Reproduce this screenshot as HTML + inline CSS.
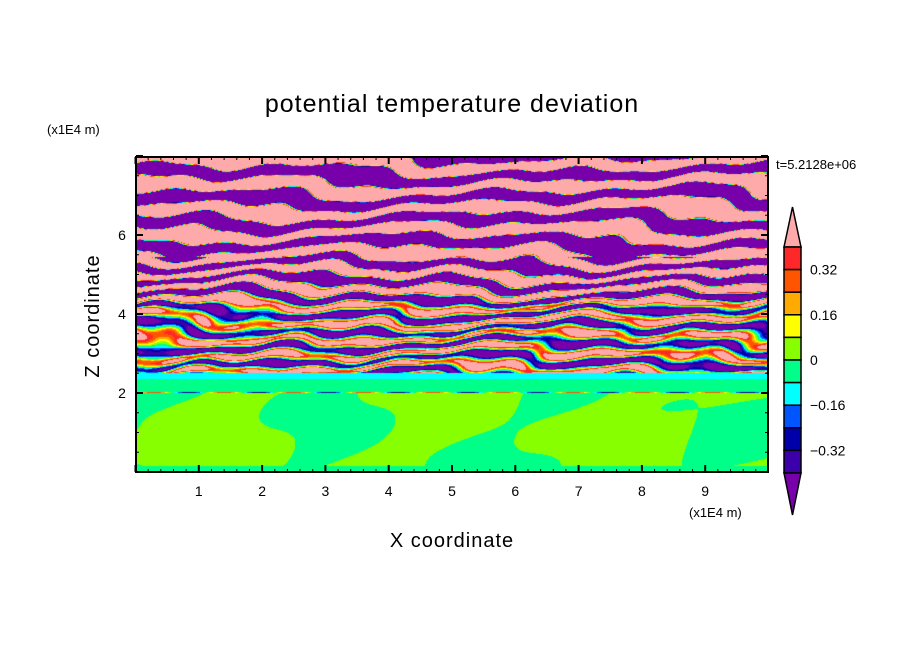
<!DOCTYPE html>
<html><head><meta charset="utf-8"><style>
body{margin:0;background:#fff;width:904px;height:654px;overflow:hidden;position:relative;font-family:"Liberation Sans",sans-serif}
canvas{position:absolute;left:136px;top:157px}
svg{position:absolute;left:0;top:0}
</style></head><body>
<canvas id="c" width="632" height="315"></canvas>
<svg width="904" height="654" id="s" font-family="Liberation Sans, sans-serif">
<text x="452" y="112" font-size="25" text-anchor="middle" letter-spacing="1">potential temperature deviation</text>
<text x="47" y="134" font-size="13">(x1E4 m)</text>
<text x="689" y="517" font-size="13">(x1E4 m)</text>
<text x="776" y="169" font-size="13">t=5.2128e+06</text>
<text x="452" y="547" font-size="20" text-anchor="middle" letter-spacing="1">X coordinate</text>
<text transform="translate(99,316) rotate(-90)" font-size="20" text-anchor="middle" letter-spacing="1">Z coordinate</text>
<g id="ax"></g>
</svg>
<script>
(function(){
const cols=["#7800aa","#3c00aa","#0000aa","#0055ff","#00ffff","#00ff88","#88ff00","#ffff00","#ffaa00","#ff5500","#ff2828","#ffaaaa"];
function idx(v){let k=Math.floor(v/0.08)+6;return Math.max(0,Math.min(11,k));}
const rgb=cols.map(c=>[parseInt(c.substr(1,2),16),parseInt(c.substr(3,2),16),parseInt(c.substr(5,2),16)]);
const cv=document.getElementById('c'),ctx=cv.getContext('2d'),im=ctx.createImageData(632,315),d=im.data;
for(let j=0;j<315;j++)for(let i=0;i<632;i++){
 let v;
 if(j<216){
  let w=5*Math.sin(i*0.012+j*0.05)+4*Math.sin(i*0.03+j*0.08+1)+2*Math.sin(i*0.06-j*0.04)+1.5*Math.sin(i*0.1+j*0.13);
  let amp=j<80?3:Math.max(0.5,3-2.5*(j-80)/70);
  v=amp*Math.sin(2*Math.PI*(j+w)/(j<100?23:16))+(j>90?0.15*Math.sin(i*0.04+j*0.3)+0.1*Math.sin(i*0.11-j*0.2):0);
 } else if(j<236){
  v=j<222?-0.11:-0.04;
  if(j==235)v=0.3*Math.sin(i*0.09);
 } else {
  v=0.01+0.065*(Math.sin(i*0.03+j*0.02)+0.8*Math.sin(i*0.017-j*0.05+2)+0.5*Math.sin(i*0.05+j*0.09))/2.3;
  v=Math.min(v,0.07);
  if(j>308)v=-0.03;
 }
 const c=rgb[idx(v)],p=(j*632+i)*4;d[p]=c[0];d[p+1]=c[1];d[p+2]=c[2];d[p+3]=255;
}
ctx.putImageData(im,0,0);
let g='';
g+='<rect x="136" y="157" width="632" height="315" fill="none" stroke="#000" stroke-width="2"/>';
for(let k=0;k<=50;k++){let x=135.5+k*12.66;if(x>768)break;let L=k%5==0?7:3;
 g+=`<line x1="${x}" y1="472" x2="${x}" y2="${472-L}" stroke="#000" stroke-width="${L>3?2:1}"/><line x1="${x}" y1="157" x2="${x}" y2="${157+L}" stroke="#000" stroke-width="${L>3?2:1}"/>`;
 if(k%5==0&&k>0&&k<50)g+=`<text x="${x}" y="496" font-size="14" text-anchor="middle">${k/5}</text>`;}
for(let k=0;k<=16;k++){let y=472-k*19.75;let L=k%4==0?7:3;
 g+=`<line x1="136" y1="${y}" x2="${136+L}" y2="${y}" stroke="#000" stroke-width="${L>3?2:1}"/><line x1="768" y1="${y}" x2="${768-L}" y2="${y}" stroke="#000" stroke-width="${L>3?2:1}"/>`;
 if(k%4==0&&k>0&&k<16)g+=`<text x="122" y="${y+5}" font-size="14" text-anchor="middle">${k/2}</text>`;}
const bx=784,bw=17,ty=247,bh=22.6;
g+=`<polygon points="${bx},${ty} ${bx+bw/2},207 ${bx+bw},${ty}" fill="${cols[11]}" stroke="#000" stroke-width="1.5"/>`;
for(let k=0;k<10;k++){g+=`<rect x="${bx}" y="${ty+k*bh}" width="${bw}" height="${bh}" fill="${cols[10-k]}" stroke="#000" stroke-width="1.5"/>`;}
let bot=ty+10*bh;
g+=`<polygon points="${bx},${bot} ${bx+bw/2},515 ${bx+bw},${bot}" fill="${cols[0]}" stroke="#000" stroke-width="1.5"/>`;
const labs=["0.32","0.16","0","\u22120.16","\u22120.32"];
labs.forEach((t,n)=>{g+=`<text x="810" y="${ty+bh*(1+2*n)+5}" font-size="14">${t}</text>`;});
document.getElementById('ax').innerHTML=g;
})();
</script>
</body></html>
